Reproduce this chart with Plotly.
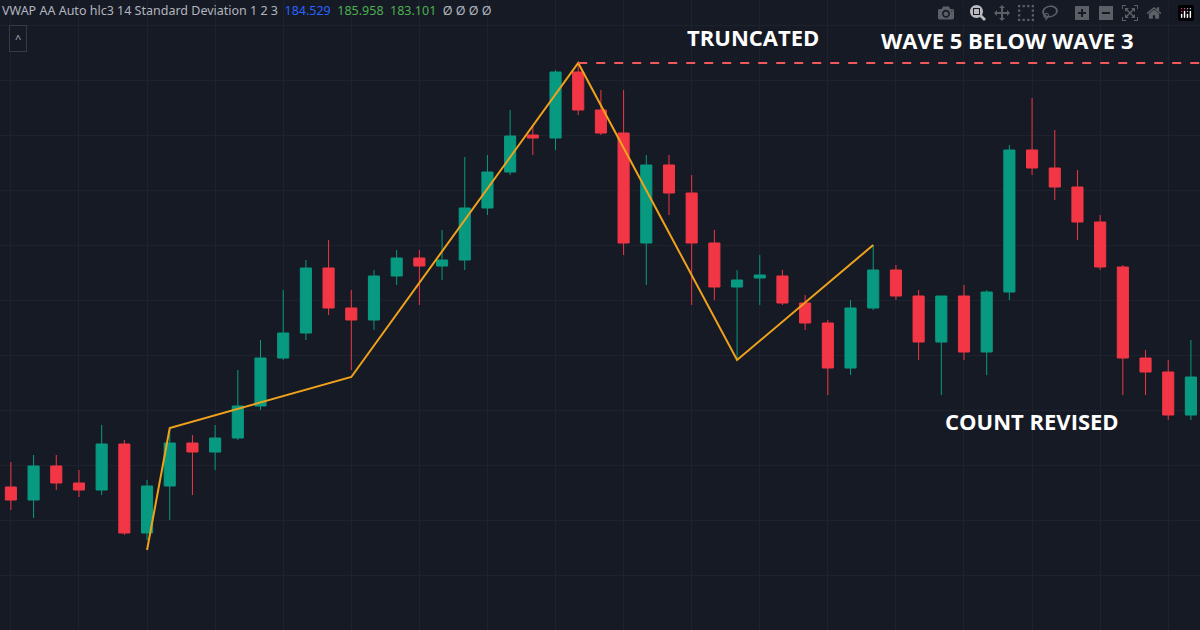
import plotly.graph_objects as go

# candle levels (screen rows, converted below to price units)
open_px = [487, 500, 466, 483, 490, 444, 533, 486, 443, 452, 438, 406, 358, 333, 268, 308, 320, 276, 258, 266,
           260, 208, 172, 135, 138, 72, 110, 133, 243, 165, 193, 243, 287, 278, 276, 303, 323, 368, 308, 270,
           296, 342, 296, 352, 292, 150, 168, 187, 222, 267, 358, 372, 415]
close_px = [500, 466, 483, 490, 444, 533, 486, 443, 452, 438, 406, 358, 333, 268, 308, 320, 276, 258, 266, 260,
            208, 172, 136, 138, 72, 110, 133, 243, 165, 193, 243, 287, 280, 275, 303, 323, 368, 308, 270, 296,
            342, 296, 352, 292, 150, 168, 187, 222, 267, 358, 372, 415, 377]
high_px = [462, 455, 455, 470, 425, 440, 480, 430, 435, 425, 370, 340, 290, 260, 240, 290, 270, 250, 250, 230,
           157, 155, 110, 125, 70, 65, 90, 90, 155, 155, 175, 230, 270, 255, 270, 295, 320, 300, 245, 265,
           290, 296, 285, 290, 145, 98, 130, 170, 215, 265, 350, 360, 340]
low_px = [510, 518, 490, 497, 495, 535, 540, 520, 495, 470, 440, 410, 360, 340, 315, 370, 330, 285, 305, 280,
          270, 215, 175, 155, 150, 115, 135, 255, 285, 215, 305, 300, 360, 305, 305, 330, 395, 375, 310, 300,
          360, 395, 360, 375, 300, 175, 200, 240, 270, 395, 395, 420, 420]

wave_idx = [6, 7, 15, 25, 32, 38]
wave_px = [550, 428, 377, 63, 360, 245]
top_level_px = 63

H = 630
o = [H - v for v in open_px]
c = [H - v for v in close_px]
h = [H - v for v in high_px]
l = [H - v for v in low_px]
idx = list(range(len(o)))

fig = go.Figure()
fig.add_trace(go.Candlestick(
    x=idx, open=o, high=h, low=l, close=c,
    increasing=dict(line=dict(color="#089981", width=1), fillcolor="#089981"),
    decreasing=dict(line=dict(color="#f23645", width=1), fillcolor="#f23645"),
    whiskerwidth=0, showlegend=False, hoverinfo="skip"))

fig.add_trace(go.Scatter(x=wave_idx, y=[H - v for v in wave_px], mode="lines",
                         line=dict(color="#f0a21a", width=2), showlegend=False, hoverinfo="skip"))
fig.add_trace(go.Scatter(x=[25, 52.6], y=[H - top_level_px] * 2, mode="lines",
                         line=dict(color="#f0595a", width=2, dash="dash"), showlegend=False, hoverinfo="skip"))

txt = dict(color="white", size=22, family="Open Sans")
fig.add_annotation(x=32.7, y=H - 37, text="<b>TRUNCATED</b>", showarrow=False, font=txt)
fig.add_annotation(x=43.9, y=H - 40, text="<b>WAVE 5 BELOW WAVE 3</b>", showarrow=False, font=txt)
fig.add_annotation(x=45.0, y=H - 421, text="<b>COUNT REVISED</b>", showarrow=False, font=txt)

fig.add_annotation(xref="paper", yref="paper", x=0.0, y=1.0, xanchor="left", yanchor="top", showarrow=False,
                   text="VWAP AA Auto hlc3 14 Standard Deviation 1 2 3  <span style='color:#2962ff'>184.529</span>  "
                        "<span style='color:#4caf50'>185.958</span>  <span style='color:#4caf50'>183.101</span>  Ø Ø Ø Ø",
                   font=dict(color="#b2b5be", size=12.5, family="Noto Sans"))
fig.add_annotation(xref="paper", yref="paper", x=0.0075, y=0.96, xanchor="left", yanchor="top", showarrow=False,
                   text="^", bordercolor="#363a45", borderwidth=1, borderpad=5, bgcolor="#161a25",
                   font=dict(color="#b2b5be", size=11))

fig.update_layout(
    width=1200, height=630, margin=dict(l=0, r=0, t=0, b=0),
    paper_bgcolor="#161a25", plot_bgcolor="#161a25",
    xaxis=dict(range=[-0.48, 52.4], showticklabels=False, rangeslider=dict(visible=False),
               gridcolor="#1e222d", dtick=3, zeroline=False),
    yaxis=dict(range=[0, H], showticklabels=False, gridcolor="#1e222d", dtick=55, zeroline=False),
)

fig.write_html("out.html", post_script="document.body.style.margin='0';document.body.style.background='#161a25';")
